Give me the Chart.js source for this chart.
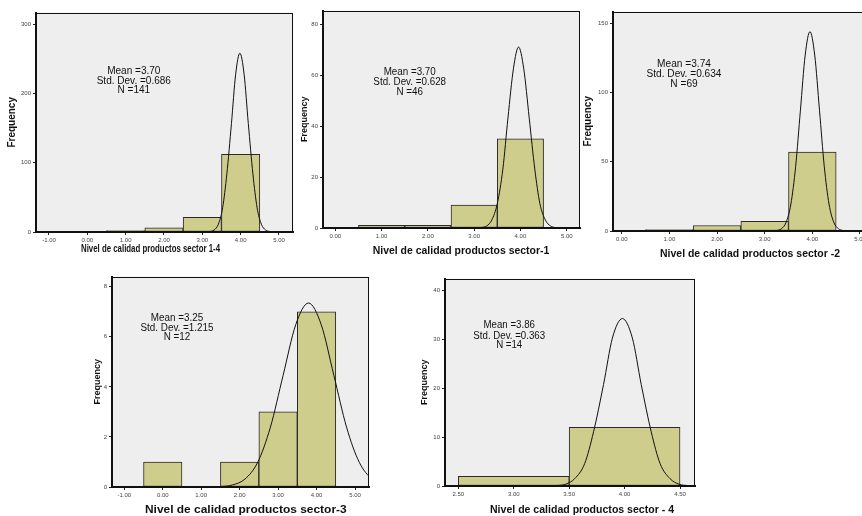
<!DOCTYPE html>
<html>
<head>
<meta charset="utf-8">
<script src="https://cdn.jsdelivr.net/npm/chart.js@4/dist/chart.umd.min.js"></script>
<style>
html,body{margin:0;padding:0;background:#fff;width:862px;height:516px;overflow:hidden;position:relative}
canvas{position:absolute}
</style>
</head>
<body>
<canvas id="c1"></canvas>
<canvas id="c2"></canvas>
<canvas id="c3"></canvas>
<canvas id="c4"></canvas>
<canvas id="c5"></canvas>
<script>
// ---------------- DATA ----------------
// Panel 1: sector 1-4
const binCenters1 = [1, 2, 3, 4];
const freq1 = [2, 6, 21, 112];
const curveX1 = [3.08,3.19,3.31,3.42,3.53,3.64,3.76,3.87,3.98,4.09,4.20,4.32,4.43,4.54,4.65,4.77,4.88];
const curveY1 = [0.1,0.6,2.9,11.3,34.9,83.8,156.5,227.7,258,227.7,156.5,83.8,34.9,11.3,2.9,0.6,0.1];
const xTicks1 = [-1, 0, 1, 2, 3, 4, 5];
const xTickLabels1 = ['-1.00','0.00','1.00','2.00','3.00','4.00','5.00'];
const yTicks1 = [0, 100, 200, 300];
const stats1 = ['Mean =3.70', 'Std. Dev. =0.686', 'N =141'];
const xTitle1 = 'Nivel de calidad productos sector 1-4';

// Panel 2: sector-1
const binCenters2 = [1, 2, 3, 4];
const freq2 = [1, 1, 9, 35];
const curveX2 = [3.04,3.15,3.27,3.38,3.50,3.62,3.73,3.85,3.96,4.07,4.19,4.31,4.42,4.54,4.65,4.76,4.88];
const curveY2 = [0.02,0.16,0.79,3.1,9.6,23.1,43.1,62.7,71,62.7,43.1,23.1,9.6,3.1,0.79,0.16,0.02];
const xTicks2 = [0, 1, 2, 3, 4, 5];
const xTickLabels2 = ['0.00','1.00','2.00','3.00','4.00','5.00'];
const yTicks2 = [0, 20, 40, 60, 80];
const stats2 = ['Mean =3.70', 'Std. Dev. =0.628', 'N =46'];
const xTitle2 = 'Nivel de calidad productos sector-1';

// Panel 3: sector -2
const binCenters3 = [1, 2, 3, 4];
const freq3 = [1, 4, 7, 57];
const curveX3 = [3.15,3.25,3.35,3.45,3.55,3.65,3.75,3.85,3.95,4.05,4.15,4.25,4.35,4.45,4.55,4.65,4.75];
const curveY3 = [0.04,0.32,1.6,6.3,19.5,46.8,87.3,127.1,144,127.1,87.3,46.8,19.5,6.3,1.6,0.32,0.04];
const xTicks3 = [0, 1, 2, 3, 4, 5];
const xTickLabels3 = ['0.00','1.00','2.00','3.00','4.00','5.00'];
const yTicks3 = [0, 50, 100, 150];
const stats3 = ['Mean =3.74', 'Std. Dev. =0.634', 'N =69'];
const xTitle3 = 'Nivel de calidad productos sector -2';

// Panel 4: sector-3
const binCenters4 = [0, 1, 2, 3, 4];
const freq4 = [1, 0, 1, 3, 7];
const curveX4 = [1.15,1.48,1.81,2.14,2.47,2.80,3.13,3.46,3.79,4.12,4.45,4.78,5.11,5.44,5.77,6.10,6.43];
const curveY4 = [0.002,0.016,0.08,0.32,0.99,2.39,4.46,6.49,7.35,6.49,4.46,2.39,0.99,0.32,0.08,0.016,0.002];
const xTicks4 = [-1, 0, 1, 2, 3, 4, 5];
const xTickLabels4 = ['-1.00','0.00','1.00','2.00','3.00','4.00','5.00'];
const yTicks4 = [0, 2, 4, 6, 8];
const stats4 = ['Mean =3.25', 'Std. Dev. =1.215', 'N =12'];
const xTitle4 = 'Nivel de calidad productos sector-3';

// Panel 5: sector - 4
const binCenters5 = [3, 4];
const freq5 = [2, 12];
const curveX5 = [3.30,3.38,3.47,3.55,3.64,3.72,3.81,3.89,3.98,4.07,4.15,4.24,4.32,4.41,4.49,4.58,4.66];
const curveY5 = [0.01,0.08,0.38,1.5,4.6,11.1,20.8,30.3,34.3,30.3,20.8,11.1,4.6,1.5,0.38,0.08,0.01];
const xTicks5 = [2.5, 3, 3.5, 4, 4.5];
const xTickLabels5 = ['2.50','3.00','3.50','4.00','4.50'];
const yTicks5 = [0, 10, 20, 30, 40];
const stats5 = ['Mean =3.86', 'Std. Dev. =0.363', 'N =14'];
const xTitle5 = 'Nivel de calidad productos sector - 4';

const yTitle = 'Frequency';

// ---------------- LAYOUT (page pixels) ----------------
const panels = [
  {id:'c1', bins:binCenters1, freq:freq1, cx:curveX1, cy:curveY1, xt:xTicks1, xl:xTickLabels1, yt:yTicks1, stats:stats1, title:xTitle1,
   area:{l:36,t:9,r:293,b:232}, xMin:-1.339, xMax:5.366, yMax:316.6, yTitleX:12.3, yTitleSize:10,
   tPos:{x:150.5,y:249,w:139}, sPos:{x:133.8,ys:[71,81,90.5],w:74.3}},
  {id:'c2', bins:binCenters2, freq:freq2, cx:curveX2, cy:curveY2, xt:xTicks2, xl:xTickLabels2, yt:yTicks2, stats:stats2, title:xTitle2,
   area:{l:323,t:7,r:580,b:228}, xMin:-0.266, xMax:5.287, yMax:85.3, yTitleX:305, yTitleSize:9,
   tPos:{x:461,y:251.5,w:176.6}, sPos:{x:409.7,ys:[72.7,82.7,92.7],w:72.7}},
  {id:'c3', bins:binCenters3, freq:freq3, cx:curveX3, cy:curveY3, xt:xTicks3, xl:xTickLabels3, yt:yTicks3, stats:stats3, title:xTitle3,
   area:{l:613,t:8,r:874,b:231}, xMin:-0.183, xMax:5.294, yMax:158.5, yTitleX:588.3, yTitleSize:10,
   tPos:{x:750,y:254,w:180}, sPos:{x:684,ys:[64.5,74.7,84.5],w:75}},
  {id:'c4', bins:binCenters4, freq:freq4, cx:curveX4, cy:curveY4, xt:xTicks4, xl:xTickLabels4, yt:yTicks4, stats:stats4, title:xTitle4,
   area:{l:112,t:273,r:369,b:487}, xMin:-1.32, xMax:5.364, yMax:8.405, yTitleX:97.3, yTitleSize:9,
   tPos:{x:245.8,y:510.5,w:201.7}, sPos:{x:177,ys:[318.3,328.3,337.7],w:73}},
  {id:'c5', bins:binCenters5, freq:freq5, cx:curveX5, cy:curveY5, xt:xTicks5, xl:xTickLabels5, yt:yTicks5, stats:stats5, title:xTitle5,
   area:{l:445,t:275,r:695,b:486}, xMin:2.38, xMax:4.635, yMax:42.48, yTitleX:425, yTitleSize:9,
   tPos:{x:582,y:510,w:184}, sPos:{x:509.2,ys:[325.7,336,345.7],w:71.7}}
];

const FAM = '"Liberation Sans", Arial, Helvetica, sans-serif';
const Y_W = 34, X_H = 29, PAD_T = 2, PAD_R = 3;

function drawFitted(ctx, lines, cx, ys, refIdx, targetW, font) {
  ctx.font = font;
  const s = targetW / ctx.measureText(lines[refIdx]).width;
  lines.forEach((txt, i) => {
    ctx.save();
    ctx.font = font;
    ctx.translate(cx, ys[i]);
    ctx.scale(s, 1);
    ctx.textAlign = 'center';
    ctx.textBaseline = 'middle';
    ctx.fillStyle = '#111';
    ctx.fillText(txt, 0, 0);
    ctx.restore();
  });
}

const panelPlugin = {
  id: 'panelDeco',
  beforeDraw(chart) {
    const a = chart.chartArea, ctx = chart.ctx;
    ctx.save();
    ctx.fillStyle = '#eeeeee';
    ctx.fillRect(a.left, a.top, a.right - a.left, a.bottom - a.top);
    ctx.restore();
  },
  afterDraw(chart, args, o) {
    const a = chart.chartArea, ctx = chart.ctx;
    ctx.save();
    ctx.strokeStyle = '#111';
    ctx.lineWidth = 1;
    ctx.strokeRect(Math.round(a.left) + 0.5, Math.round(a.top) + 0.5,
                   Math.round(a.right - a.left) - 1, Math.round(a.bottom - a.top) - 1);
    ctx.restore();
    drawFitted(ctx, o.stats, o.sx, o.sys, 1, o.sw, 'normal 10px ' + FAM);
    drawFitted(ctx, [o.title], o.tx, [o.ty], 0, o.tw, 'bold 10px ' + FAM);
  }
};

panels.forEach(p => {
  const cv = document.getElementById(p.id);
  const left = p.area.l - Y_W, top = p.area.t - PAD_T;
  const w = p.area.r + PAD_R - left, h = p.area.b + X_H - top;
  cv.width = w; cv.height = h;
  cv.style.left = left + 'px'; cv.style.top = top + 'px';
  cv.style.width = w + 'px'; cv.style.height = h + 'px';
  const titleLH = p.yTitleSize * 1.2;
  new Chart(cv, {
    type: 'bar',
    data: {
      datasets: [
        {
          type: 'line',
          data: p.cx.map((x, i) => ({x: x, y: p.cy[i]})),
          borderColor: '#111', borderWidth: 1, pointRadius: 0, fill: false,
          cubicInterpolationMode: 'monotone', clip: 0, order: 0
        },
        {
          type: 'bar',
          data: p.bins.map((c, i) => ({x: c, y: p.freq[i]})),
          backgroundColor: '#cfcd8c', borderColor: '#2a2a2a', borderWidth: 1,
          borderSkipped: false, barThickness: 'flex', barPercentage: 1, categoryPercentage: 1,
          order: 1
        }
      ]
    },
    options: {
      responsive: false, devicePixelRatio: 1, animation: false,
      layout: {padding: {left: 0, top: PAD_T, right: PAD_R, bottom: 0}},
      plugins: {
        legend: {display: false}, tooltip: {enabled: false},
        panelDeco: {
          stats: p.stats, sx: p.sPos.x - left, sys: p.sPos.ys.map(y => y - top), sw: p.sPos.w,
          title: p.title, tx: p.tPos.x - left, ty: p.tPos.y - top, tw: p.tPos.w
        }
      },
      scales: {
        x: {
          type: 'linear', min: p.xMin, max: p.xMax, offset: false, bounds: 'data',
          afterFit: s => { s.height = X_H; },
          afterBuildTicks: s => { s.ticks = p.xt.map(v => ({value: v})); },
          grid: {display: true, offset: false, drawOnChartArea: false, drawTicks: true, tickLength: 3, color: '#222'},
          border: {display: true, color: '#111', width: 2, z: 1},
          ticks: {
            autoSkip: false, maxRotation: 0, padding: 2, color: '#444',
            font: {family: FAM, size: 6},
            callback: (v, i) => p.xl[i]
          }
        },
        y: {
          type: 'linear', min: 0, max: p.yMax, bounds: 'data',
          afterFit: s => { s.width = Y_W; },
          afterBuildTicks: s => { s.ticks = p.yt.map(v => ({value: v})); },
          grid: {display: true, drawOnChartArea: false, drawTicks: true, tickLength: 3, color: '#222'},
          border: {display: true, color: '#111', width: 2, z: 1},
          ticks: {
            autoSkip: false, padding: 2, color: '#444',
            font: {family: FAM, size: 6},
            callback: (v, i) => String(p.yt[i])
          },
          title: {
            display: true, text: yTitle, color: '#111',
            font: {family: FAM, size: p.yTitleSize, weight: 'bold', lineHeight: 1.2},
            padding: {top: p.yTitleX - left - titleLH / 2, bottom: 0}
          }
        }
      }
    },
    plugins: [panelPlugin]
  });
});
</script>
</body>
</html>
